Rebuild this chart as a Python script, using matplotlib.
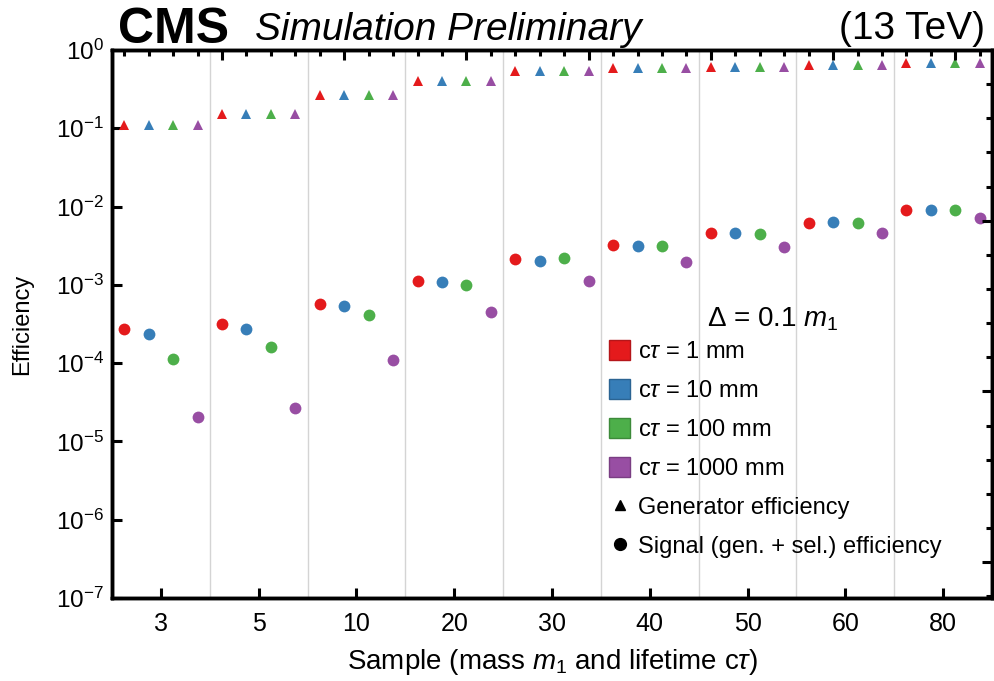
"""
CMS efficiency per sample (mass m1, lifetime c tau)
"""

import matplotlib

matplotlib.use("Agg")

import matplotlib.pyplot as plt
from matplotlib.lines import Line2D
from matplotlib.patches import Patch
from matplotlib.ticker import FixedLocator, LogLocator, LogFormatterMathtext, NullFormatter


MASSES = ["3", "5", "10", "20", "30", "40", "50", "60", "80"]
CTAU_LABELS = [
    r"c$\tau$ = 1 mm",
    r"c$\tau$ = 10 mm",
    r"c$\tau$ = 100 mm",
    r"c$\tau$ = 1000 mm",
]
COLORS = ["#e41a1c", "#377eb8", "#4daf4a", "#984ea3"]
EDGE_COLORS = ["#b5161a", "#2b6493", "#3d8a3a", "#7a3e83"]

# generator efficiency, one list per c tau, one value per mass
GEN_EFF = [
    [0.110, 0.151, 0.266, 0.405, 0.544, 0.595, 0.610, 0.640, 0.676],
    [0.110, 0.151, 0.266, 0.405, 0.544, 0.595, 0.610, 0.640, 0.676],
    [0.110, 0.151, 0.266, 0.405, 0.544, 0.595, 0.610, 0.640, 0.676],
    [0.110, 0.151, 0.266, 0.405, 0.544, 0.595, 0.610, 0.640, 0.676],
]

# signal (gen. + sel.) efficiency
SIG_EFF = [
    [2.73e-4, 3.16e-4, 5.70e-4, 1.13e-3, 2.14e-3, 3.23e-3, 4.64e-3, 6.23e-3, 9.04e-3],
    [2.36e-4, 2.73e-4, 5.37e-4, 1.10e-3, 2.02e-3, 3.13e-3, 4.64e-3, 6.40e-3, 9.04e-3],
    [1.14e-4, 1.62e-4, 4.12e-4, 1.00e-3, 2.20e-3, 3.13e-3, 4.50e-3, 6.23e-3, 9.04e-3],
    [2.07e-5, 2.70e-5, 1.10e-4, 4.50e-4, 1.13e-3, 1.98e-3, 3.07e-3, 4.55e-3, 7.08e-3],
]

FONT = "Liberation Sans"


def configure_font():
    plt.rcParams["font.family"] = [FONT, "DejaVu Sans"]
    plt.rcParams["mathtext.fontset"] = "custom"
    plt.rcParams["mathtext.rm"] = FONT
    plt.rcParams["mathtext.it"] = FONT + ":italic"
    plt.rcParams["mathtext.bf"] = FONT + ":bold"
    plt.rcParams["axes.unicode_minus"] = True


def main():
    configure_font()

    n_ct = len(CTAU_LABELS)
    n_mass = len(MASSES)

    fig = plt.figure(figsize=(9.95, 6.81), dpi=100)
    ax = fig.add_axes([0.1126, 0.1219, 0.8844, 0.8047])

    for s in range(n_ct):
        xs = [g * n_ct + s + 0.5 for g in range(n_mass)]
        ax.plot(xs, GEN_EFF[s], linestyle="none", marker="^",
                markersize=7.5, color=COLORS[s], markeredgewidth=0, zorder=3)
        ax.plot(xs, SIG_EFF[s], linestyle="none", marker="o",
                markersize=8.5, color=COLORS[s], markeredgewidth=0, zorder=3)

    ax.set_yscale("log")
    ax.set_ylim(1e-7, 1)
    ax.set_xlim(0, n_ct * n_mass)

    ax.yaxis.set_major_locator(LogLocator(base=10, numticks=10))
    ax.yaxis.set_major_formatter(LogFormatterMathtext())
    ax.yaxis.set_minor_locator(FixedLocator([]))
    ax.yaxis.set_minor_formatter(NullFormatter())

    ax.set_xticks([g * n_ct + n_ct / 2 for g in range(n_mass)])
    ax.set_xticklabels(MASSES)
    ax.set_xticks([g * n_ct for g in range(1, n_mass)], minor=True)
    ax.grid(True, which="minor", axis="x", color="#d4d4d4", linewidth=1.0)

    ax.tick_params(axis="both", which="major", direction="in", length=7,
                   width=2.2, labelsize=17.5, pad=6)
    ax.tick_params(axis="x", which="minor", length=0)
    ax.tick_params(axis="x", which="major", labelsize=18, pad=10)
    for spine in ax.spines.values():
        spine.set_linewidth(2.4)

    ax.set_ylabel("Efficiency", fontsize=17, labelpad=16)
    ax.set_xlabel(r"Sample (mass $m_1$ and lifetime c$\tau$)", fontsize=20,
                  labelpad=8)

    # frame ticks on the top and right edges
    top = ax.twiny()
    top.set_xlim(ax.get_xlim())
    n_top = n_ct * n_mass
    top.set_xticks([i - 0.5 for i in range(5, n_top + 1, 5)])
    top.set_xticks([i - 0.5 for i in range(1, n_top + 1)], minor=True)
    top.tick_params(which="both", direction="in", width=2.2, labeltop=False,
                    labelbottom=False)
    top.tick_params(which="major", length=7)
    top.tick_params(which="minor", length=4)

    right = ax.twinx()
    right.set_ylim(-1.05, 15)
    right.set_yticks([0, 5, 10, 15])
    right.set_yticks(range(-1, 16), minor=True)
    right.tick_params(which="both", direction="in", width=2.2,
                      labelright=False, labelleft=False)
    right.tick_params(which="major", length=7)
    right.tick_params(which="minor", length=4)
    for other in (top, right):
        for spine in other.spines.values():
            spine.set_linewidth(2.4)

    handles = [
        Patch(facecolor=c, edgecolor=e, linewidth=1.0)
        for c, e in zip(COLORS, EDGE_COLORS)
    ]
    handles.append(Line2D([], [], linestyle="none", marker="^",
                          markersize=7.5, color="black"))
    handles.append(Line2D([], [], linestyle="none", marker="o",
                          markersize=8.5, color="black"))
    labels = CTAU_LABELS + [
        "Generator efficiency",
        "Signal (gen. + sel.) efficiency",
    ]
    leg = ax.legend(
        handles,
        labels,
        fontsize=17,
        frameon=False,
        loc="upper left",
        bbox_to_anchor=(0.565, 0.470),
        handlelength=0.9,
        handleheight=0.9,
        handletextpad=0.3,
        labelspacing=0.68,
        borderaxespad=0,
        borderpad=0,
    )
    leg.set_zorder(5)
    ax.text(0.751, 0.508, r"$\Delta$ = 0.1 $m_1$", fontsize=20,
            transform=ax.transAxes, ha="center", va="center", zorder=5)

    fig.text(0.119, 0.937, "CMS", fontsize=36, fontweight="bold",
             ha="left", va="baseline")
    fig.text(0.256, 0.941, "Simulation Preliminary", fontsize=28,
             style="italic", ha="left", va="baseline")
    fig.text(0.990, 0.943, "(13 TeV)", fontsize=28, ha="right",
             va="baseline")

    fig.savefig("out.png", dpi=100)
    plt.close(fig)


if __name__ == "__main__":
    main()
